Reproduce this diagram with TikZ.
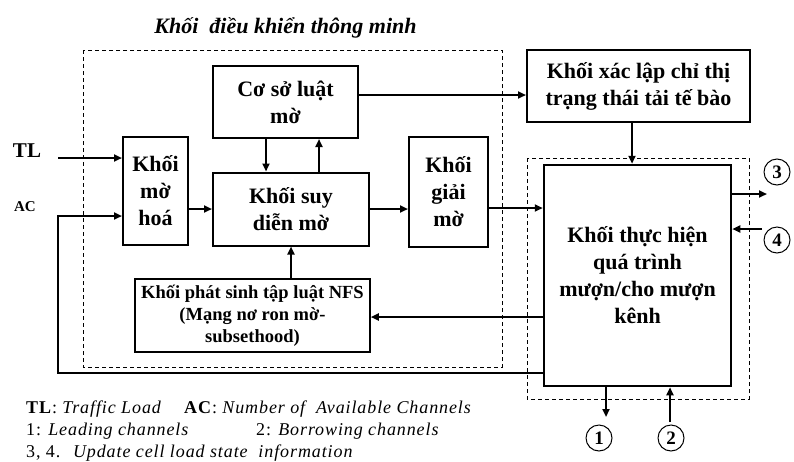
\documentclass[tikz,border=0pt]{standalone}
\usepackage{fontspec}
\setmainfont{Liberation Serif}
\usetikzlibrary{arrows.meta}

\begin{document}
\begin{tikzpicture}[
x=1pt, y=-1pt,
block/.style={rectangle, draw=black, line width=2pt, align=center, inner sep=0pt, font=\fontsize{22}{27}\selectfont\bfseries},
smallblock/.style={block, line width=1.5pt, font=\fontsize{18.5}{22}\selectfont\bfseries},
zone/.style={draw=black, line width=0.9pt, dash pattern=on 4pt off 3pt},
num/.style={circle, draw=black, line width=1pt, minimum size=26pt, inner sep=0pt, font=\fontsize{19}{19}\selectfont\bfseries},
arr/.style={line width=2pt, -{Triangle[length=8pt, width=7pt]}},
legend/.style={anchor=west, inner sep=1pt, font=\fontsize{18}{18}\selectfont\addfontfeature{LetterSpace=5}},
]
\useasboundingbox (0,0) rectangle (794,461);

% dashed zones
\draw[zone] (83,50) rectangle (502,367);
\draw[zone] (527,158) rectangle (749,399);
\node[font=\fontsize{22}{22}\selectfont\bfseries\itshape] (title) at (285.5,28) {Khối~ điều khiển thông minh};

% blocks
\node[block, minimum width=145pt, minimum height=72pt] (coso) at (285.5,102) {Cơ sở luật\\mờ};
\node[block, minimum width=223pt, minimum height=72pt] (xaclap) at (638.5,86) {Khối xác lập chỉ thị\\trạng thái tải tế bào};
\node[block, minimum width=65pt, minimum height=108pt] (mohoa) at (155.5,191) {Khối\\mờ\\hoá};
\node[block, minimum width=156pt, minimum height=73pt] (suydien) at (291,209) {Khối suy\\diễn mờ};
\node[block, minimum width=79pt, minimum height=110pt] (giaimo) at (448.5,192) {Khối\\giải\\mờ};
\node[smallblock, minimum width=235pt, minimum height=73pt] (phatsinh) at (252.5,315.5) {Khối phát sinh tập luật NFS\\(Mạng nơ ron mờ-\\subsethood)};
\node[block, line width=2.5pt, minimum width=187pt, minimum height=221pt] (thuchien) at (637.5,275.5) {Khối thực hiện\\quá trình\\mượn/cho mượn\\kênh};

% inputs
\node[font=\fontsize{21}{21}\selectfont\bfseries] (tl) at (27,151) {TL};
\node[font=\fontsize{15}{15}\selectfont\bfseries] (ac) at (25,207) {AC};
\coordinate (tlin) at (58,158);
\coordinate (acin) at (58,216);

% numbered ends
\node[num] (n3) at (777,172) {3};
\node[num] (n4) at (777,240) {4};
\node[num] (n1) at (599,438) {1};
\node[num] (n2) at (671,438) {2};
\coordinate (out3) at (767,194);
\coordinate (in4) at (762,229);
\coordinate (out1) at (606,417);
\coordinate (in2) at (670,422);

% connectors
\draw[arr] (tlin) -- (mohoa.west |- tlin);
\draw[arr] ([yshift=-97.5pt]thuchien.west) -| (acin) -- (mohoa.west |- acin);
\draw[arr] (suydien.west -| mohoa.east) -- (suydien.west);
\draw[arr] (suydien.east) -- (suydien.east -| giaimo.west);
\draw[arr] ([yshift=-16pt]giaimo.east) coordinate (gm) -- (thuchien.west |- gm);
\draw[arr] ([xshift=-19.5pt]coso.south) coordinate (cd) -- (suydien.north -| cd);
\draw[arr] ([xshift=33.5pt]coso.south |- suydien.north) coordinate (cu) -- (coso.south -| cu);
\draw[arr] (suydien.south |- phatsinh.north) -- (suydien.south);
\draw[arr] ([yshift=7pt]coso.east) coordinate (cx) -- (xaclap.west |- cx);
\draw[arr] ([xshift=-6.5pt]xaclap.south) coordinate (xt) -- (thuchien.north -| xt);
\draw[arr] ([yshift=-41.5pt]thuchien.west) coordinate (fb) -- (phatsinh.east |- fb);
\draw[arr] (thuchien.east |- out3) -- (out3);
\draw[arr] (in4) -- (thuchien.east |- in4);
\draw[arr] (thuchien.south -| out1) -- (out1);
\draw[arr] (in2) -- (thuchien.south -| in2);

% legend
\node[legend] (keytl) at (25,409) {\textbf{TL}: \textit{Traffic Load}};
\node[legend] (keyac) at (183,409) {\textbf{AC}: \textit{Number of~ Available Channels}};
\node[legend] (key1) at (25,431) {1: \textit{Leading channels}};
\node[legend] (key2) at (255,431) {2: \textit{Borrowing channels}};
\node[legend] (key34) at (25,453) {3, 4.~ \textit{Update cell load state~ information}};
\end{tikzpicture}
\end{document}
